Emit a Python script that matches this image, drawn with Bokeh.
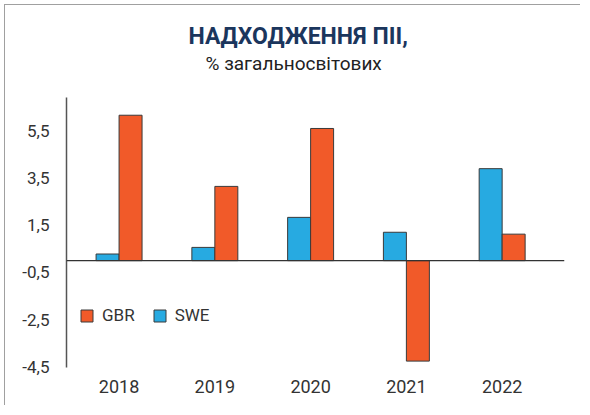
from bokeh.plotting import figure
from bokeh.models import (ColumnDataSource, FixedTicker, Span, Title, Legend,
                          LegendItem, Range1d)
from bokeh.transform import dodge
from bokeh.embed import file_html
from bokeh.resources import INLINE

# ---- data ----
years = ["2018", "2019", "2020", "2021", "2022"]
gbr = [6.15, 3.14, 5.59, -4.25, 1.12]
swe = [0.28, 0.56, 1.83, 1.20, 3.89]
y_ticks = [5.5, 3.5, 1.5, -0.5, -2.5, -4.5]
y_tick_labels = ["5,5", "3,5", "1,5", "-0,5", "-2,5", "-4,5"]
title_text = "НАДХОДЖЕННЯ ПІІ,"
subtitle_text = "% загальносвітових"
series_names = ["GBR", "SWE"]

GBR_COLOR = "#F15A29"
SWE_COLOR = "#27AAE1"
OUTLINE = "#3a3a3a"
FONT = "Roboto"

src = ColumnDataSource(dict(x=list(range(len(years))), gbr=gbr, swe=swe))

p = figure(width=576, height=401, output_backend="svg", toolbar_location=None,
           x_range=Range1d(-0.549, 4.651), y_range=Range1d(-4.52, 6.9),
           min_border_left=61, min_border_right=17, min_border_top=92,
           min_border_bottom=39)
p.margin = (4, 0, 0, 4)
p.styles = {"border-left": "1px solid #a0a0a0", "border-top": "1px solid #a0a0a0"}
p.outline_line_color = None
p.xgrid.grid_line_color = None
p.ygrid.grid_line_color = None

bw = 0.24
r_swe = p.vbar(x=dodge("x", -bw / 2), top="swe", bottom=0, width=bw, source=src,
               fill_color=SWE_COLOR, line_color=OUTLINE, line_width=1)
r_gbr = p.vbar(x=dodge("x", bw / 2), top="gbr", bottom=0, width=bw, source=src,
               fill_color=GBR_COLOR, line_color=OUTLINE, line_width=1)

p.add_layout(Span(location=0, dimension="width", line_color="#333333", line_width=1.3))

# axes
p.yaxis.ticker = FixedTicker(ticks=y_ticks)
p.yaxis.major_label_overrides = {t: l for t, l in zip(y_ticks, y_tick_labels)}
p.yaxis.axis_line_color = "#555555"
p.yaxis.axis_line_width = 1.5
p.yaxis.major_tick_line_color = None
p.yaxis.minor_tick_line_color = None
p.yaxis.major_label_standoff = 11
p.yaxis.major_label_text_font = FONT
p.yaxis.major_label_text_font_size = "17px"
p.yaxis.major_label_text_color = "#333333"

p.xaxis.ticker = FixedTicker(ticks=list(range(len(years))))
p.xaxis.major_label_overrides = {i: y for i, y in enumerate(years)}
p.xaxis.axis_line_color = None
p.xaxis.major_tick_line_color = None
p.xaxis.minor_tick_line_color = None
p.xaxis.major_label_standoff = 6
p.xaxis.major_label_text_font = FONT
p.xaxis.major_label_text_font_size = "18px"
p.xaxis.major_label_text_color = "#333333"

# legend
legend = Legend(items=[LegendItem(label=series_names[0], renderers=[r_gbr]),
                       LegendItem(label=series_names[1], renderers=[r_swe])],
                orientation="horizontal", location=(13, 42),
                glyph_width=15, glyph_height=15, label_standoff=8, spacing=17,
                padding=0, margin=0, label_height=15,
                label_text_font=FONT, label_text_font_size="17px",
                label_text_color="#333333",
                background_fill_alpha=0, border_line_color=None)
p.add_layout(legend)

# titles (listed from the frame outward)
p.add_layout(Title(text=" ", text_font_size="19px", standoff=0), "above")
p.add_layout(Title(text=subtitle_text, align="left", offset=139, standoff=0,
                   text_font=FONT, text_font_style="normal", text_font_size="19px",
                   text_color="#222222"), "above")
p.add_layout(Title(text=title_text, align="left", offset=122, standoff=0,
                   text_font=FONT, text_font_style="bold", text_font_size="23px",
                   text_color="#1B365D"), "above")

open("out.html", "w").write(file_html(p, INLINE))
